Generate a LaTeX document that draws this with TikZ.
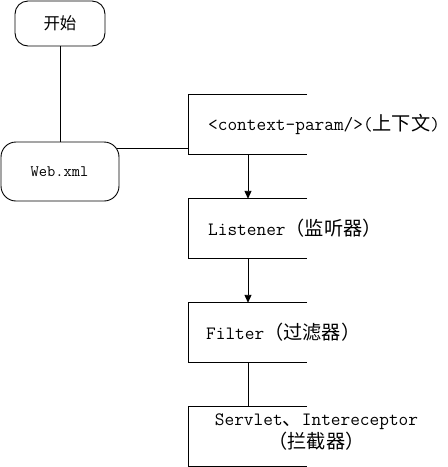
\documentclass[tikz,border=0pt]{standalone}
\usepackage{fontspec}
\newfontfamily\cjk{Noto Sans CJK SC}
\newcommand\zh[1]{{\fontsize{19.2}{23}\cjk #1}}
\usetikzlibrary{arrows.meta}
\tikzset{
  rbox/.style={rounded corners=13pt, draw, line width=0.9pt, inner sep=0pt},
  obox/.style={inner sep=0pt, minimum width=118pt, minimum height=59pt},
  side/.style={line width=0.9pt},
  conn/.style={line width=0.9pt},
  arr/.style={conn, -{Triangle[length=8pt,width=7pt]}},
  rtext/.style={inner sep=0pt, font=\fontsize{18.8}{23}\ttfamily},
}
\begin{document}
\begin{tikzpicture}[x=1pt,y=-1pt]
\useasboundingbox (0,0) rectangle (448,467);
% rounded boxes
\node[rbox, minimum width=90pt, minimum height=45pt] (start) at (60,23.5) {};
\node[inner sep=0pt, font=\fontsize{16.5}{20}\cjk] (startt) at (60,23.5) {开始};
\node[rbox, rounded corners=15pt, minimum width=118pt, minimum height=59pt] (web) at (60,171.5) {};
\node[inner sep=0pt, font=\fontsize{16}{20}\ttfamily] (webt) at (59.5,171.5) {Web.xml};
% open boxes
\node[obox] (ctx) at (248,124.5) {};
\node[obox] (lis) at (248,228.5) {};
\node[obox] (fil) at (248,332.5) {};
\node[obox] (srv) at (248,436.5) {};
\foreach \b in {ctx,lis,fil,srv}{
  \draw[side] (\b.north east) -- (\b.north west) -- (\b.south west) -- (\b.south east);
}
\node[rtext, anchor=west] (ctxt) at (208,124.5) {<context-param/>(\zh{上下文})};
\node[rtext, anchor=west] (list) at (208,228.5) {Listener\zh{（监听器）}};
\node[rtext, anchor=west] (filt) at (206,332.5) {Filter\zh{（过滤器）}};
\node[rtext, align=center] (srvt) at (316.5,432.5) {Servlet\zh{、}Intereceptor\\\zh{（拦截器）}};
% connectors
\draw[conn] (start) -- (web);
\coordinate (j) at (117,148);
\draw[conn] (j) -- (ctx.west |- j);
\draw[arr] (ctx) -- (lis);
\draw[arr] (lis) -- (fil);
\draw[conn] (fil) -- (srv);
\end{tikzpicture}
\end{document}
